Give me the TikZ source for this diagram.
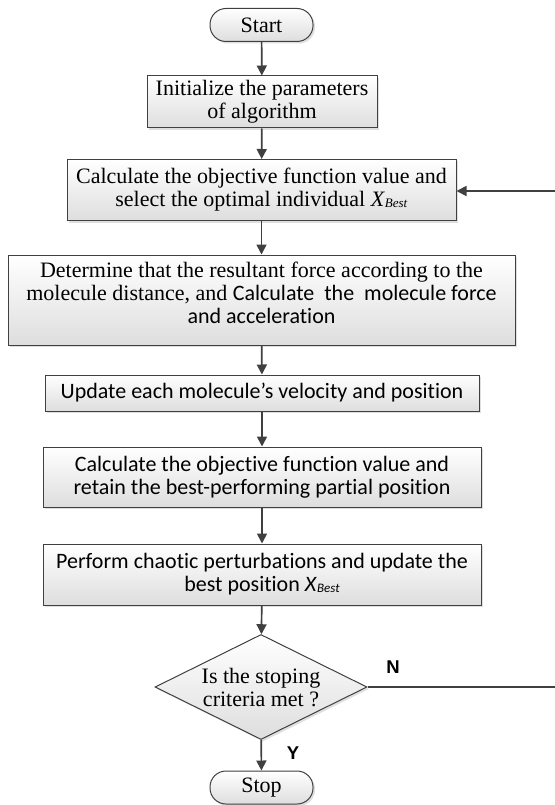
\documentclass[tikz,border=0pt]{standalone}
\usepackage{fontspec}
\setmainfont{Liberation Serif}
\newfontfamily\calfont[Ligatures=NoCommon]{Carlito}
\newfontfamily\arialfont{Liberation Sans}
\usetikzlibrary{shapes.geometric,arrows.meta,shadows}
\definecolor{edgegray}{HTML}{404040}
\newcommand{\xbest}{\textit{X}\raisebox{-1pt}{\fontsize{13}{13}\selectfont\textit{Best}}}
\tikzset{
  box/.style={draw=edgegray, line width=1pt, top color=white, bottom color=black!13,
    drop shadow={opacity=0.25, shadow xshift=2pt, shadow yshift=-2pt},
    inner sep=0pt, align=center, font=\fontsize{22}{23}\selectfont},
  term/.style={box, rounded corners=16pt},
  dia/.style={box, shape=diamond},
  txt/.style={inner sep=0pt, align=center, font=\fontsize{22}{23}\selectfont},
  lbl/.style={inner sep=0pt, font=\arialfont\bfseries\fontsize{18.5}{18.5}\selectfont},
  arr/.style={draw=edgegray, line width=1.7pt, -{Triangle[length=10pt,width=10pt]}},
  ln/.style={draw=edgegray, line width=1.5pt}
}
\begin{document}
\begin{tikzpicture}[x=1pt, y=-1pt]
\useasboundingbox[fill=white] (0,0) rectangle (554,805);
\node[term, minimum width=103pt, minimum height=33pt] (start) at (261.5,25) {Start};
\node[box, minimum width=230pt, minimum height=52pt] (init) at (262,102) {Initialize the parameters\\of algorithm};
\node[box, minimum width=389pt, minimum height=61pt] (calc) at (261.5,190) {Calculate the objective function value and\\select the optimal individual \xbest};
\node[box, minimum width=507pt, minimum height=90pt] (det) at (261.5,300) {};
\node[txt] (dett) at (261.5,293) {Determine that the resultant force according to the\\molecule distance, and {\calfont Calculate\ \ the\ \ molecule force}\\{\calfont and acceleration}};
\node[box, font=\calfont\fontsize{22}{23}\selectfont, minimum width=434pt, minimum height=36pt] (upd) at (262,393) {Update each molecule’s velocity and position};
\node[box, font=\calfont\fontsize{22}{23}\selectfont, minimum width=438pt, minimum height=60pt] (calc2) at (262,477) {Calculate the objective function value and\\retain the best-performing partial position};
\node[box, font=\calfont\fontsize{22}{23}\selectfont, minimum width=438pt, minimum height=61pt] (perf) at (262,574.5) {Perform chaotic perturbations and update the\\best position \xbest};
\node[dia, minimum width=212pt, minimum height=105pt] (dec) at (261,687) {};
\node[txt] (dect) at (261,688) {Is the stoping\\criteria met ?};
\node[term, minimum width=103pt, minimum height=33pt] (stop) at (261.5,787.5) {Stop};
\node[lbl] (nlab) at (393,667) {N};
\node[lbl] (ylab) at (293,753) {Y};
\draw[arr] (start) -- (init);
\draw[arr] (init) -- (calc);
\draw[arr] (calc) -- (det);
\draw[arr] (det) -- (upd);
\draw[arr] (upd) -- (calc2);
\draw[arr] (calc2) -- (perf);
\draw[arr] (perf) -- (dec);
\draw[arr] (dec) -- (stop);
\coordinate (rb) at (557,687);
\coordinate (rt) at (557,191);
\draw[ln] (dec.east) -- (rb) -- (rt);
\draw[arr] (rt) -- (calc.east |- rt);
\end{tikzpicture}
\end{document}
